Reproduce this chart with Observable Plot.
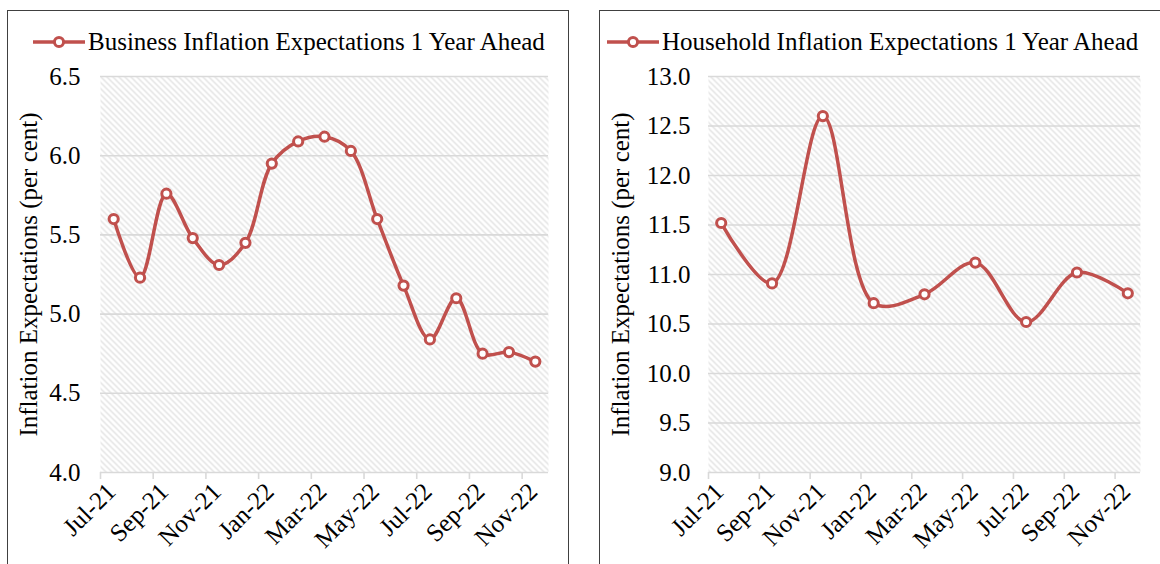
<!DOCTYPE html>
<html>
<head>
<meta charset="utf-8">
<script src="https://cdn.jsdelivr.net/npm/d3@7"></script>
<script src="https://cdn.jsdelivr.net/npm/@observablehq/plot@0.6"></script>
<style>
  html, body { margin: 0; padding: 0; background: #fff; }
  body { width: 1160px; height: 564px; position: relative; overflow: hidden; font-family: "Liberation Serif", "Times New Roman", serif; }
  .panel { position: absolute; border: 1.5px solid #404040; box-sizing: border-box; }
  .legend { position: absolute; display: flex; align-items: center; font-size: 25px; color: #000; white-space: nowrap; font-family: "Liberation Serif", serif; }
  .legend svg { margin-right: 3px; }
  .chart { position: absolute; }
  .chart svg, .chart svg text { font-family: "Liberation Serif", "Times New Roman", serif !important; }
</style>
</head>
<body>
<div class="panel" style="left:7px; top:10px; width:562px; height:600px;"></div>
<div class="panel" style="left:599px; top:10px; width:600px; height:600px;"></div>
<div class="legend" id="leg1" style="left:33px; top:28px;"></div>
<div class="legend" id="leg2" style="left:607px; top:28px;"></div>
<div class="chart" id="c1" style="left:8px; top:56px;"></div>
<div class="chart" id="c2" style="left:600px; top:56px;"></div>
<script>
// ---- data ----
const months = ["Jul-21","Aug-21","Sep-21","Oct-21","Nov-21","Dec-21","Jan-22","Feb-22","Mar-22","Apr-22","May-22","Jun-22","Jul-22","Aug-22","Sep-22","Oct-22","Nov-22"];
const businessValues = [5.60, 5.23, 5.76, 5.48, 5.31, 5.45, 5.95, 6.09, 6.12, 6.03, 5.60, 5.18, 4.84, 5.10, 4.75, 4.76, 4.70];
const householdMonths = ["Jul-21","Sep-21","Nov-21","Jan-22","Mar-22","May-22","Jul-22","Sep-22","Nov-22"];
const householdValues = [11.52, 10.91, 12.60, 10.71, 10.80, 11.12, 10.52, 11.02, 10.81];
const tickMonths = ["Jul-21","Sep-21","Nov-21","Jan-22","Mar-22","May-22","Jul-22","Sep-22","Nov-22"];
const businessTicks = [4.0, 4.5, 5.0, 5.5, 6.0, 6.5];
const householdTicks = [9.0, 9.5, 10.0, 10.5, 11.0, 11.5, 12.0, 12.5, 13.0];
const businessLabel = "Business Inflation Expectations 1 Year Ahead";
const householdLabel = "Household Inflation Expectations 1 Year Ahead";
const yTitle = "Inflation Expectations (per cent)";

const RED = "#C0504D";
const GRID = "#d9d9d9";
const SERIF = "Liberation Serif, Times New Roman, serif";

function legend(id, text) {
  const el = document.getElementById(id);
  el.innerHTML = `<svg width="52" height="14"><line x1="0" y1="7" x2="52" y2="7" stroke="${RED}" stroke-width="3.5"/><circle cx="26" cy="7" r="4.6" fill="#fff" stroke="${RED}" stroke-width="3"/></svg><span>${text}</span>`;
}
legend("leg1", businessLabel);
legend("leg2", householdLabel);

function hatchDefs(id) {
  return () => {
    const ns = "http://www.w3.org/2000/svg";
    const defs = document.createElementNS(ns, "defs");
    defs.innerHTML = `<pattern id="${id}" patternUnits="userSpaceOnUse" width="6" height="6"><rect width="6" height="6" fill="#fff"/><path d="M-1,-1 L7,7 M-4,2 L2,8 M4,-2 L10,4" stroke="#e0e0e0" stroke-width="1.3"/></pattern>`;
    return defs;
  };
}

function panel(cfg) {
  const data = cfg.cats.map((m, i) => ({i: months.indexOf(m) + 0.5, v: cfg.values[i]}));
  const tickIdx = tickMonths.map(m => months.indexOf(m));
  const svg = Plot.plot({
    width: 560,
    height: 508,
    marginLeft: cfg.marginLeft,
    marginRight: cfg.marginRight,
    marginTop: 20,
    marginBottom: 92,
    style: {fontFamily: SERIF, fontSize: "25px", color: "#000", background: "transparent", overflow: "visible"},
    x: {domain: [0, months.length], axis: null},
    y: {domain: cfg.domain, axis: null},
    marks: [
      hatchDefs(cfg.pid),
      Plot.frame({fill: `url(#${cfg.pid})`, stroke: null}),
      Plot.gridY(cfg.yticks, {stroke: GRID, strokeOpacity: 1, strokeWidth: 1.6}),
      Plot.axisX(tickIdx, {tickSize: 7, stroke: GRID, strokeWidth: 1.6, tickFormat: () => "", label: null}),
      Plot.axisX(tickIdx, {tickSize: 0, tickPadding: 15, dx: 11, tickRotate: -45, tickFormat: i => months[i], fontSize: 25, fontFamily: SERIF, fill: "#000", label: null}),
      Plot.axisY(cfg.yticks, {tickSize: 0, tickPadding: cfg.yPad, tickFormat: d3.format(".1f"), fontSize: 25, fontFamily: SERIF, fill: "#000", label: null}),
      Plot.text([yTitle], {frameAnchor: "left", text: d => d, rotate: -90, textAnchor: "middle", dx: -cfg.titleOffset, fontSize: 25, fontFamily: SERIF, fill: "#000"}),
      Plot.line(data, {x: "i", y: "v", curve: "catmull-rom", stroke: RED, strokeWidth: 3.5}),
      Plot.dot(data, {x: "i", y: "v", r: 4.6, fill: "#fff", stroke: RED, strokeWidth: 3})
    ]
  });
  svg.querySelectorAll("text").forEach(t => {
    t.setAttribute("font-family", SERIF);
    t.style.fontFamily = '"Liberation Serif", "Times New Roman", serif';
    t.style.fontVariant = "normal";
  });
  return svg;
}

document.getElementById("c1").append(panel({
  pid: "hatch1", cats: months, values: businessValues, domain: [4.0, 6.5], yticks: businessTicks,
  marginLeft: 92, marginRight: 20, yPad: 20, titleOffset: 72
}));
document.getElementById("c2").append(panel({
  pid: "hatch2", cats: householdMonths, values: householdValues, domain: [9.0, 13.0], yticks: householdTicks,
  marginLeft: 108, marginRight: 20, yPad: 18, titleOffset: 88
}));
</script>
</body>
</html>
